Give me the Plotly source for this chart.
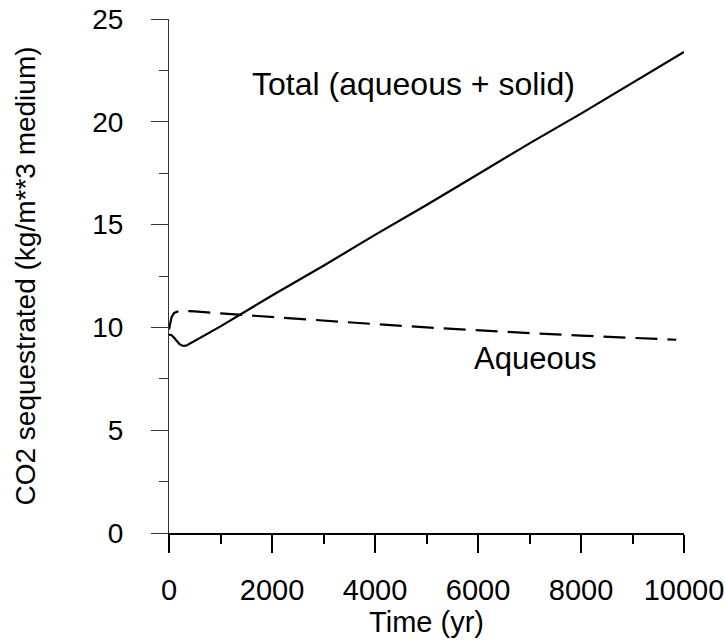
import plotly.graph_objects as go

# Total (aqueous + solid)
total_t = [0, 50, 100, 150, 200, 250, 300, 350, 400, 600, 1000, 2000, 3000, 4000, 5000, 6000, 7000, 8000, 9000, 10000]
total_v = [9.65, 9.62, 9.5, 9.35, 9.2, 9.12, 9.1, 9.13, 9.2, 9.5, 10.05, 11.55, 13.0, 14.5, 15.95, 17.45, 18.95, 20.4, 21.9, 23.4]

# Aqueous
aq_t = [0, 20, 50, 100, 150, 200, 300, 500, 1000, 2000, 3000, 4000, 5000, 6000, 7000, 8000, 9000, 9850]
aq_v = [9.9, 10.2, 10.5, 10.7, 10.77, 10.8, 10.8, 10.78, 10.68, 10.5, 10.33, 10.16, 10.0, 9.85, 9.72, 9.6, 9.48, 9.4]

x_ticks = [0, 2000, 4000, 6000, 8000, 10000]
y_ticks = [0, 5, 10, 15, 20, 25]

FONT = "Liberation Sans, Arial, sans-serif"

fig = go.Figure()
fig.add_trace(go.Scatter(x=total_t, y=total_v, mode="lines",
                         line=dict(color="black", width=2.2), showlegend=False))
fig.add_trace(go.Scatter(x=aq_t, y=aq_v, mode="lines",
                         line=dict(color="black", width=2.2, dash="22px,10px"), showlegend=False))

fig.add_annotation(x=4740, y=21.85, text="Total (aqueous + solid)", showarrow=False,
                   xref="x", yref="y", font=dict(size=32, color="black", family=FONT))
fig.add_annotation(x=7100, y=8.5, text="Aqueous", showarrow=False,
                   xref="x", yref="y", font=dict(size=31, color="black", family=FONT))

fig.update_layout(
    width=725, height=643,
    margin=dict(l=169, r=41, t=19, b=110),
    plot_bgcolor="white", paper_bgcolor="white",
    font=dict(family=FONT, size=29, color="black"),
    xaxis=dict(range=[0, 10000], tickvals=x_ticks, ticktext=[str(v) for v in x_ticks],
               automargin=False,
               showgrid=False, zeroline=False, showline=True, linecolor="black", linewidth=2,
               ticks="outside", ticklen=18, tickwidth=2, tickcolor="black",
               ticklabelstandoff=12,
               minor=dict(dtick=1000, ticks="outside", ticklen=9, tickwidth=2, tickcolor="black"),
               title=dict(text="Time (yr)", font=dict(size=29), standoff=3),
               tickfont=dict(size=29)),
    yaxis=dict(range=[0, 25], tickvals=y_ticks, ticktext=[str(v) for v in y_ticks],
               automargin=False,
               showgrid=False, zeroline=False, showline=True, linecolor="#333", linewidth=1,
               ticks="outside", ticklen=17, tickwidth=1, tickcolor="#333",
               ticklabelstandoff=22,
               minor=dict(dtick=2.5, ticks="outside", ticklen=9, tickwidth=1, tickcolor="#333"),
               title=dict(text="CO2 sequestrated (kg/m**3 medium)", font=dict(size=28), standoff=48),
               tickfont=dict(size=28)),
)

fig.write_html("out.html")
